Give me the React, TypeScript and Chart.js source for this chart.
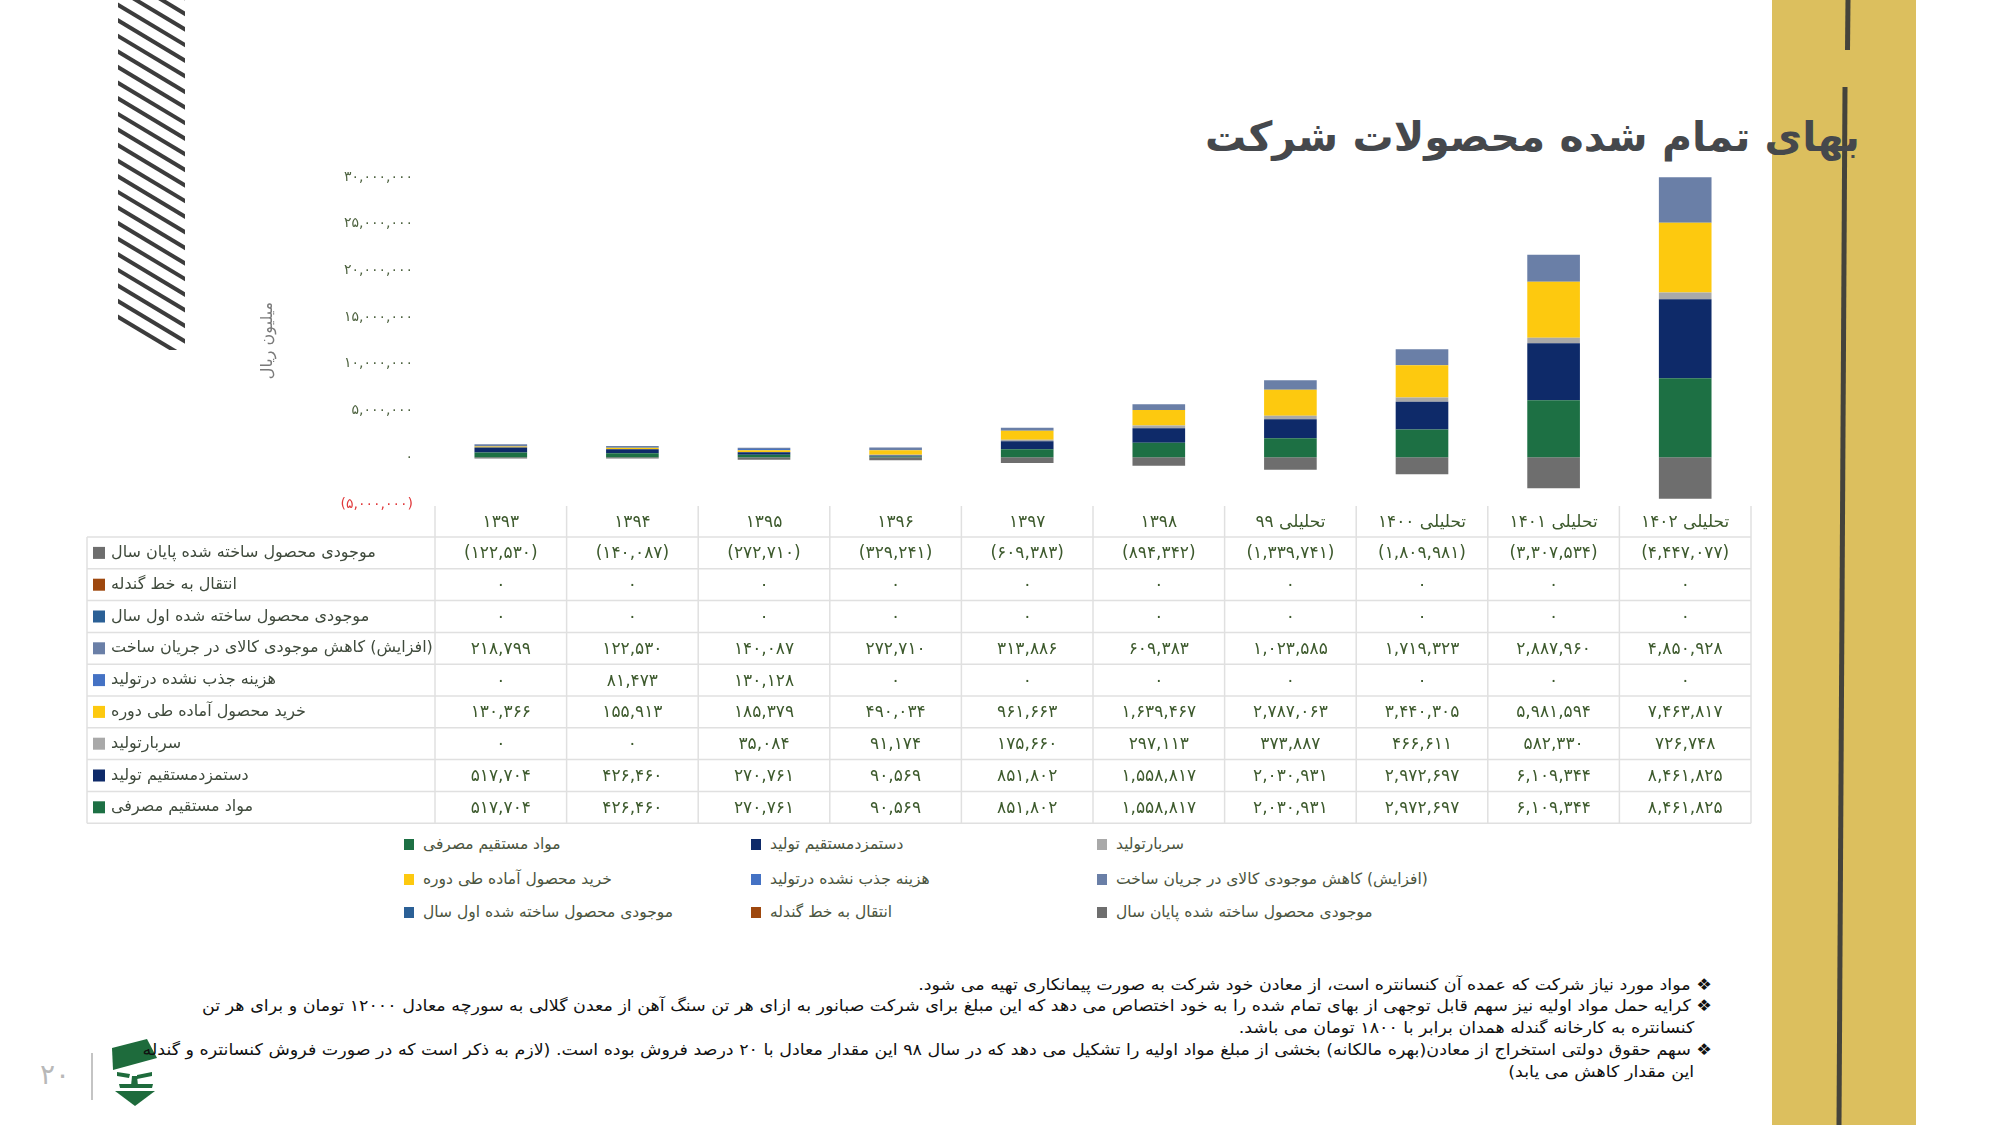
import React, { useEffect, useLayoutEffect, useRef } from 'react';
import { Chart, registerables } from 'chart.js';

Chart.register(...registerables);

// ---------------- data ----------------
const categories = ['۱۳۹۳', '۱۳۹۴', '۱۳۹۵', '۱۳۹۶', '۱۳۹۷', '۱۳۹۸', 'تحلیلی ۹۹', 'تحلیلی ۱۴۰۰', 'تحلیلی ۱۴۰۱', 'تحلیلی ۱۴۰۲'];

const directMaterials = [517704, 426460, 270761, 90569, 851802, 1558817, 2030931, 2972697, 6109344, 8461825];
const directLabor = [517704, 426460, 270761, 90569, 851802, 1558817, 2030931, 2972697, 6109344, 8461825];
const overhead = [0, 0, 35084, 91174, 175660, 297113, 373887, 466611, 582330, 726748];
const purchasedGoods = [130366, 155913, 185379, 490034, 961663, 1639467, 2787063, 3440305, 5981594, 7463817];
const unabsorbedCost = [0, 81473, 130128, 0, 0, 0, 0, 0, 0, 0];
const wipChange = [218799, 122530, 140087, 272710, 313886, 609383, 1023585, 1719323, 2887960, 4850928];
const openingInventory = [0, 0, 0, 0, 0, 0, 0, 0, 0, 0];
const transferToPellet = [0, 0, 0, 0, 0, 0, 0, 0, 0, 0];
const closingInventory = [-122530, -140087, -272710, -329241, -609383, -894342, -1339741, -1809981, -3307534, -4447077];

const yMin = -5000000;
const yMax = 30000000;
const yStep = 5000000;

const series = [
  { name: 'مواد مستقیم مصرفی', data: directMaterials, color: '#1d7044' },
  { name: 'دستمزدمستقیم تولید', data: directLabor, color: '#0e2a69' },
  { name: 'سربارتولید', data: overhead, color: '#a9a9a9' },
  { name: 'خرید محصول آماده طی دوره', data: purchasedGoods, color: '#fdc90f' },
  { name: 'هزینه جذب نشده درتولید', data: unabsorbedCost, color: '#4472c4' },
  { name: '(افزایش) کاهش موجودی کالای در جریان ساخت', data: wipChange, color: '#6a7fa7' },
  { name: 'موجودی محصول ساخته شده اول سال', data: openingInventory, color: '#2b6096' },
  { name: 'انتقال به خط گندله', data: transferToPellet, color: '#9e480e' },
  { name: 'موجودی محصول ساخته شده پایان سال', data: closingInventory, color: '#6e6e6e' },
];

const footnotes = [
  { text: '❖ مواد مورد نیاز شرکت که عمده آن کنسانتره است، از معادن خود شرکت به صورت پیمانکاری تهیه می شود.', right: 1712, cy: 985 },
  { text: '❖ کرایه حمل مواد اولیه نیز سهم قابل توجهی از بهای تمام شده را به خود اختصاص می دهد که این مبلغ برای شرکت صبانور به ازای هر تن سنگ آهن از معدن گلالی به سورچه معادل ۱۲۰۰۰ تومان و برای هر تن', right: 1712, cy: 1006 },
  { text: 'کنسانتره به کارخانه گندله همدان برابر با ۱۸۰۰ تومان می باشد.', right: 1694, cy: 1028 },
  { text: '❖ سهم حقوق دولتی استخراج از معادن(بهره مالکانه) بخشی از مبلغ مواد اولیه را تشکیل می دهد که در سال ۹۸ این مقدار معادل با ۲۰ درصد فروش بوده است. (لازم به ذکر است که در صورت فروش کنسانتره و گندله', right: 1712, cy: 1050 },
  { text: 'این مقدار  کاهش می یابد)', right: 1694, cy: 1072 },
];

// ---------------- helpers ----------------
const FA = '۰۱۲۳۴۵۶۷۸۹';
const fa = (s: string) => s.replace(/\d/g, (d) => FA[+d]);
const fmt = (v: number) =>
  v === 0 ? '۰' : v < 0 ? '(' + fa(Math.abs(v).toLocaleString('en-US')) + ')' : fa(v.toLocaleString('en-US'));

const FONT = '"DejaVu Sans", "Noto Sans", sans-serif';
const NUM_COLOR = '#3d5a2d';
const LABEL_COLOR = '#3f4a3c';

const TABLE = { top: 506, headerBottom: 537, rowH: 31.8, labelLeft: 87 };

const tablePlugin = {
  id: 'dataTable',
  afterDraw(chart: any) {
    const ctx: CanvasRenderingContext2D = chart.ctx;
    const xs = chart.scales.x;
    const n = categories.length;
    const left = xs.left;
    const right = xs.right;
    const colW = (right - left) / n;
    const rows = [...series].reverse();
    const bottom = TABLE.headerBottom + TABLE.rowH * rows.length;
    ctx.save();
    ctx.strokeStyle = '#e0e0e0';
    ctx.lineWidth = 1.5;
    const line = (x1: number, y1: number, x2: number, y2: number) => {
      ctx.beginPath();
      ctx.moveTo(x1, y1);
      ctx.lineTo(x2, y2);
      ctx.stroke();
    };
    for (let i = 0; i <= n; i++) {
      const x = left + i * colW;
      line(x, TABLE.top, x, bottom);
    }
    line(TABLE.labelLeft, TABLE.headerBottom, TABLE.labelLeft, bottom);
    for (let r = 0; r <= rows.length; r++) {
      const y = TABLE.headerBottom + r * TABLE.rowH;
      line(TABLE.labelLeft, y, right, y);
    }
    ctx.textBaseline = 'middle';
    ctx.font = `17px ${FONT}`;
    ctx.fillStyle = NUM_COLOR;
    ctx.textAlign = 'center';
    (ctx as any).direction = 'rtl';
    categories.forEach((c, i) => ctx.fillText(c, xs.getPixelForValue(i), (TABLE.top + TABLE.headerBottom) / 2 + 1));
    rows.forEach((s, r) => {
      const cy = TABLE.headerBottom + r * TABLE.rowH + TABLE.rowH / 2;
      ctx.fillStyle = s.color;
      ctx.fillRect(93, cy - 6, 12, 12);
      (ctx as any).direction = 'rtl';
      ctx.textAlign = 'left';
      ctx.fillStyle = LABEL_COLOR;
      ctx.font = `16px ${FONT}`;
      ctx.fillText(s.name, 111, cy);
      (ctx as any).direction = 'ltr';
      ctx.textAlign = 'center';
      ctx.fillStyle = NUM_COLOR;
      ctx.font = `17px ${FONT}`;
      s.data.forEach((v, i) => ctx.fillText(fmt(v), xs.getPixelForValue(i), cy + 1));
    });
    ctx.restore();
  },
};

function ChartCanvas() {
  const ref = useRef<HTMLCanvasElement | null>(null);
  useEffect(() => {
    if (!ref.current) return;
    const chart = new Chart(ref.current, {
      type: 'bar',
      data: {
        labels: categories,
        datasets: series.map((s) => ({
          label: s.name,
          data: s.data,
          backgroundColor: s.color,
          borderWidth: 0,
          barPercentage: 0.4,
          categoryPercentage: 1,
        })),
      },
      options: {
        responsive: false,
        animation: false,
        devicePixelRatio: 1,
        layout: { padding: { left: 254, right: 249, top: 177, bottom: 621 } },
        plugins: { legend: { display: false }, tooltip: { enabled: false } },
        scales: {
          x: { stacked: true, display: false },
          y: {
            stacked: true,
            min: yMin,
            max: yMax,
            afterFit: (scale: any) => {
              scale.width = 181;
            },
            grid: { display: false, drawTicks: false },
            border: { display: false },
            ticks: {
              stepSize: yStep,
              padding: 22,
              font: { family: FONT, size: 14 },
              color: (c: any) => (c.tick && c.tick.value < 0 ? '#e0393b' : '#4e6340'),
              callback: (v: any) => fmt(Number(v)),
            },
            title: {
              display: true,
              text: 'میلیون ریال',
              color: '#7a7a7a',
              font: { family: FONT, size: 16 },
            },
          },
        },
      },
      plugins: [tablePlugin],
    } as any);
    return () => chart.destroy();
  }, []);
  return <canvas ref={ref} width={2000} height={1125} style={{ position: 'absolute', left: 0, top: 0, width: 2000, height: 1125 }} />;
}

function Decorations() {
  const stripes = [];
  for (let k = -4; k < 26; k++) {
    const y0 = k * 15.6;
    stripes.push(<line key={k} x1={110} y1={y0} x2={192} y2={y0 + 82 * 0.6} stroke="#3c3c3c" strokeWidth={4} />);
  }
  return (
    <svg width={2000} height={1125} style={{ position: 'absolute', left: 0, top: 0 }}>
      <defs>
        <clipPath id="stripeClip">
          <polygon points="118,0 185,0 185,350 160,350 118,325" />
        </clipPath>
      </defs>
      <g clipPath="url(#stripeClip)">{stripes}</g>
      <rect x={1772} y={0} width={144} height={1125} fill="#dcbf5e" />
      <line x1={1848} y1={0} x2={1847.5} y2={50} stroke="#45433b" strokeWidth={5} />
      <line x1={1845} y1={87} x2={1839} y2={1125} stroke="#45433b" strokeWidth={5} />
      <line x1={92} y1={1053} x2={92} y2={1100} stroke="#c4c4c4" strokeWidth={2} />
      <g fill="#1e6b3c">
        <polygon points="112,1048 147,1039 157,1058 113,1070" />
        <polygon points="117,1072 130,1074 129,1078 117,1076" />
        <polygon points="137,1075 152,1072 152,1076 137,1079" />
        <polygon points="132,1076 137,1076 138,1086 131,1086" />
        <polygon points="119,1084 153,1084 152,1088 120,1088" />
        <polygon points="115,1091 155,1091 135,1106" />
      </g>
    </svg>
  );
}

export default function App() {
  const noteRefs = useRef<(HTMLDivElement | null)[]>([]);
  useLayoutEffect(() => {
    const apply = () => {
      const ref = noteRefs.current[1];
      if (!ref) return;
      const w = ref.getBoundingClientRect().width;
      const target = 1712 - 202;
      const s = w > 0 ? target / w : 1;
      noteRefs.current.forEach((el) => {
        if (el) {
          el.style.transform = `scaleX(${s})`;
        }
      });
    };
    noteRefs.current.forEach((el) => el && (el.style.transform = 'none'));
    apply();
    if ((document as any).fonts && (document as any).fonts.ready) {
      (document as any).fonts.ready.then(() => {
        noteRefs.current.forEach((el) => el && (el.style.transform = 'none'));
        apply();
      });
    }
  }, []);

  const legendCols = [404, 751, 1097];
  const legendRows = [844, 879, 912];

  return (
    <div style={{ position: 'fixed', left: 0, top: 0, width: 2000, height: 1125, background: '#ffffff', overflow: 'hidden', fontFamily: FONT }}>
      <Decorations />
      <div
        dir="rtl"
        style={{
          position: 'absolute',
          right: 140,
          top: 110,
          fontSize: 41,
          lineHeight: '54px',
          fontWeight: 'bold',
          color: '#45484c',
          whiteSpace: 'nowrap',
          fontFamily: FONT,
        }}
      >
        بهای تمام شده محصولات شرکت
      </div>
      {series.map((s, i) => {
        const x = legendCols[i % 3];
        const cy = legendRows[Math.floor(i / 3)];
        return (
          <React.Fragment key={s.name}>
            <div style={{ position: 'absolute', left: x, top: cy - 5, width: 10, height: 11, background: s.color }} />
            <div
              dir="rtl"
              style={{ position: 'absolute', left: x + 19, top: cy - 11, fontSize: 15.5, lineHeight: '22px', color: '#4b5540', whiteSpace: 'nowrap' }}
            >
              {s.name}
            </div>
          </React.Fragment>
        );
      })}
      {footnotes.map((f, i) => (
        <div
          key={i}
          ref={(el) => {
            noteRefs.current[i] = el;
          }}
          dir="rtl"
          style={{
            position: 'absolute',
            right: 2000 - f.right,
            top: f.cy - 11,
            fontSize: 16,
            lineHeight: '22px',
            color: '#111111',
            whiteSpace: 'nowrap',
            fontFamily: '"DejaVu Sans Condensed", "DejaVu Sans", sans-serif',
            fontStretch: 'condensed',
            transformOrigin: 'right center',
          }}
        >
          {f.text}
        </div>
      ))}
      <div style={{ position: 'absolute', left: 40, top: 1058, fontSize: 28, lineHeight: '34px', color: '#b8b8b8', fontFamily: FONT }}>۲۰</div>
      <ChartCanvas />
    </div>
  );
}
